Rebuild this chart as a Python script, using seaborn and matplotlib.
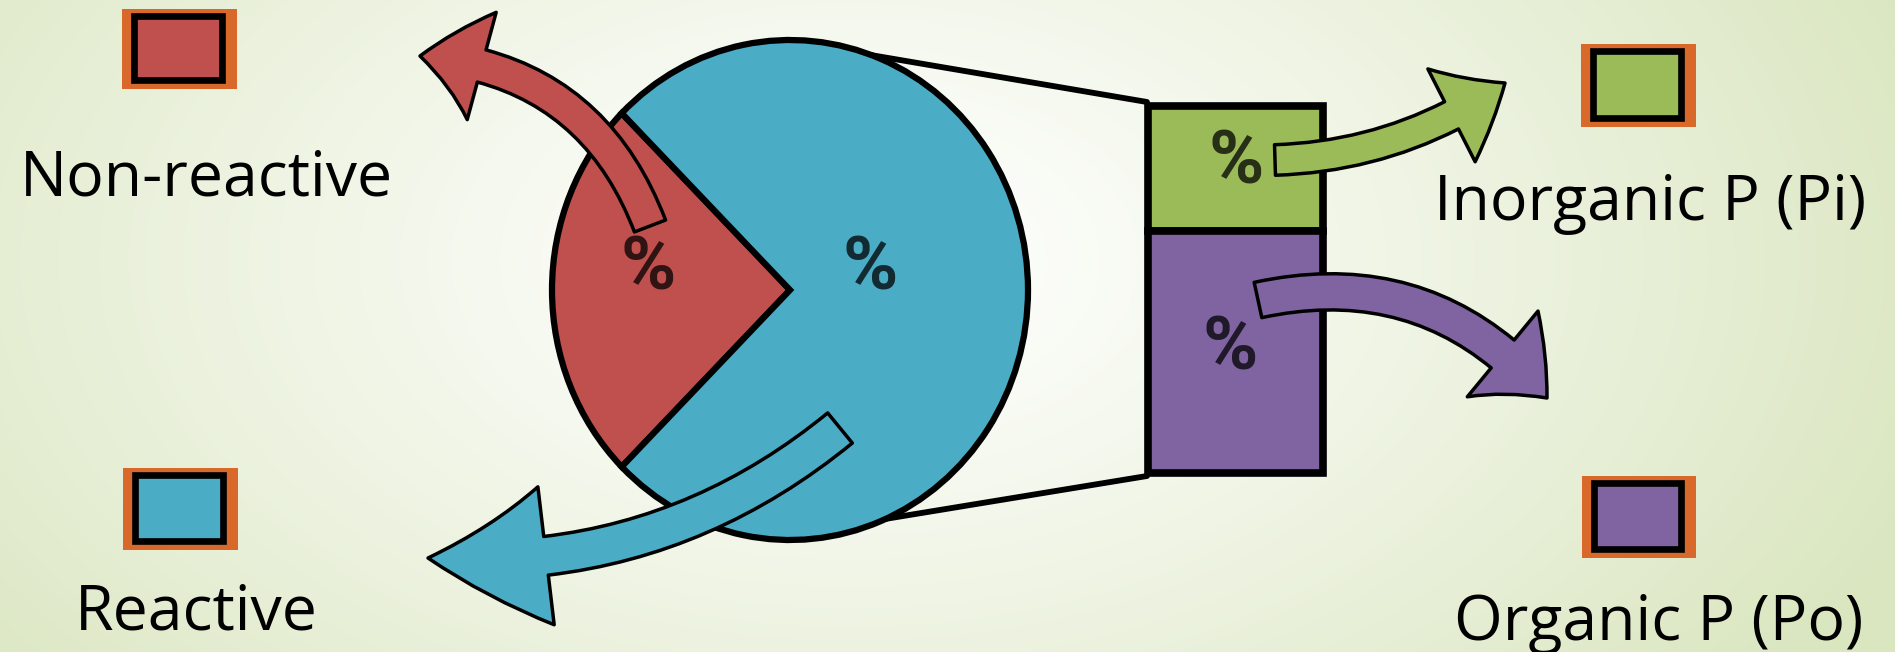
import numpy as np
import matplotlib
matplotlib.use("Agg")
import matplotlib.pyplot as plt
import seaborn as sns
from matplotlib.patches import FancyArrowPatch, Rectangle, ArrowStyle
from matplotlib.lines import Line2D

# ---------------- data ----------------
pie_labels = ["Non-reactive", "Reactive"]
pie_values = [25, 75]
bar_labels = ["Inorganic P (Pi)", "Organic P (Po)"]
bar_values = [34, 66]
value_text = ["%", "%", "%", "%"]

sns.set_theme(style="white")
plt.rcParams["font.family"] = ["Open Sans", "DejaVu Sans"]
palette = sns.color_palette(["#C0504D", "#4BACC6", "#9BBB59", "#8064A2"])
red, blue, green, purple = palette
orange = "#D9692B"

W, H = 1895, 652
fig = plt.figure(figsize=(W / 100, H / 100), dpi=100)

def frac(x0, y0, x1, y1):
    return [x0 / W, 1 - y1 / H, (x1 - x0) / W, (y1 - y0) / H]

# ---------------- background ----------------
bg = fig.add_axes([0, 0, 1, 1], zorder=0)
bg.set_xlim(0, W); bg.set_ylim(H, 0); bg.axis("off")
yy, xx = np.mgrid[0:H, 0:W]
t = np.sqrt(((xx - 850) / 1150) ** 2 + ((yy - 260) / 700) ** 2)
t = np.clip(t, 0, 1) ** 1.2
edge = np.array([218, 230, 192]) / 255
img = (1 - t[..., None]) * np.array([1, 1, 1]) + t[..., None] * edge
bg.imshow(img, extent=[0, W, H, 0], aspect="auto", zorder=0)

# connector lines (pie -> bar)
bg.add_line(Line2D([800, 1147], [43, 102], color="black", lw=4.2, zorder=2))
bg.add_line(Line2D([830, 1147], [528, 476], color="black", lw=4.2, zorder=2))

# legend swatches
def swatch(x0, y0, x1, y1, col):
    bg.add_patch(Rectangle((x0, y0), x1 - x0, y1 - y0, facecolor=orange, edgecolor="none", zorder=3))
    bg.add_patch(Rectangle((x0 + 12, y0 + 7), (x1 - x0) - 27, (y1 - y0) - 16,
                           facecolor=col, edgecolor="black", lw=4.8, zorder=4))

swatch(122, 9, 237, 89, red)
swatch(123, 468, 238, 550, blue)
swatch(1581, 44, 1696, 127, green)
swatch(1582, 476, 1696, 558, purple)

# ---------------- pie ----------------
axp = fig.add_axes(frac(552, 40, 1028, 540), zorder=2)
axp.pie(pie_values, colors=[red, blue], startangle=135, counterclock=True,
        wedgeprops=dict(edgecolor="black", linewidth=4.5))
axp.set_aspect("auto")
axp.set_xlim(-1, 1); axp.set_ylim(-1, 1)
axp.axis("off")

# ---------------- bar ----------------
axb = fig.add_axes(frac(1148, 106, 1323, 473), zorder=2)
bottoms = [bar_values[1], 0]
cols = [green, purple]
for v, b, c in zip(bar_values, bottoms, cols):
    axb.bar(0, v, bottom=b, width=1, color=c, edgecolor="black", linewidth=5.5, clip_on=False)
axb.set_xlim(-0.5, 0.5); axb.set_ylim(0, sum(bar_values))
axb.axis("off")

# ---------------- top overlay: arrows & text ----------------
top = fig.add_axes([0, 0, 1, 1], zorder=5)
top.set_xlim(0, W); top.set_ylim(H, 0); top.axis("off")
top.patch.set_alpha(0)

def arrow(p0, p1, rad, col, hl=45, hw=80, tw=22):
    a = FancyArrowPatch(p0, p1, connectionstyle=f"arc3,rad={rad}",
                        arrowstyle=ArrowStyle.Simple(head_length=hl, head_width=hw, tail_width=tw),
                        facecolor=col, edgecolor="black", lw=2.5, shrinkA=0, shrinkB=0,
                        mutation_scale=1, zorder=6)
    top.add_patch(a)

arrow((650, 226), (420, 56), 0.32, red, hl=45, hw=80, tw=24)
arrow((840, 428), (428, 558), -0.2, blue, hl=85, hw=100, tw=28)
arrow((1275, 160), (1505, 83), 0.15, green, hl=45, hw=75, tw=22)
arrow((1258, 300), (1547, 398), -0.3, purple, hl=45, hw=80, tw=26)

pct_font = ["Roboto", "DejaVu Sans"]
for (x, y), s in zip([(648, 270), (870, 270), (1236, 164), (1230, 349)], value_text):
    top.text(x, y, s, ha="center", va="center", fontsize=54, fontweight="bold",
             family=pct_font, color="black", alpha=0.75, zorder=7)

lab_kw = dict(fontsize=45, color="black", va="baseline", ha="center", zorder=7)
top.text(206, 195, pie_labels[0], **lab_kw)
top.text(196, 630, pie_labels[1], **lab_kw)
top.text(1650, 220, bar_labels[0], **lab_kw)
top.text(1659, 640, bar_labels[1], **lab_kw)

fig.savefig("out.png", dpi=100)
